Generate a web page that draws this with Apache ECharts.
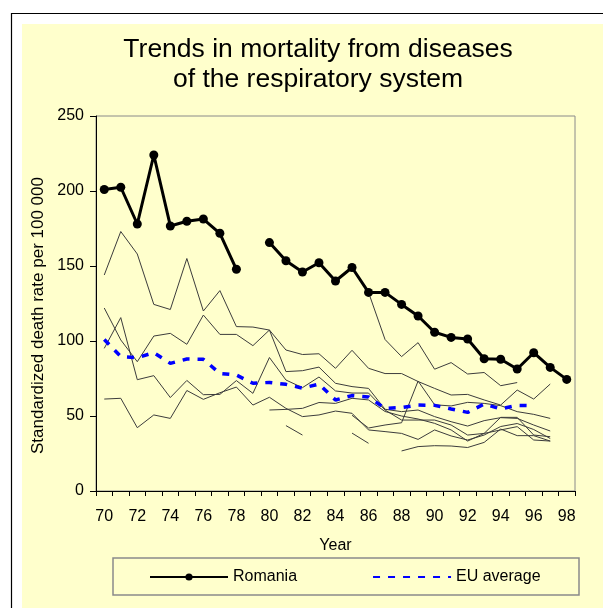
<!DOCTYPE html>
<html>
<head>
<meta charset="utf-8">
<script src="https://cdn.jsdelivr.net/npm/echarts@6/dist/echarts.min.js"></script>
<style>
html,body{margin:0;padding:0;background:#fff;}
#chart{width:603px;height:608px;}
</style>
</head>
<body>
<div id="chart"></div>
<script>
// Years 1970..1998 (labels shown every second year)
const years = ['70','71','72','73','74','75','76','77','78','79','80','81','82','83','84','85','86','87','88','89','90','91','92','93','94','95','96','97','98'];
const yTicks = [0, 50, 100, 150, 200, 250];

const romania = [201, 202.5, 178, 224, 176.7, 179.8, 181.3, 171.8, 147.8, null, 165.6, 153.5, 146, 152.2, 140, 149, 132.4, 132.4, 124.4, 116.7, 105.8, 102.4, 101.3, 88.2, 87.8, 81.3, 92.2, 82.4, 74.4];
const euAverage = [101, 89.6, 88.9, 92.2, 85.1, 88, 87.8, 78.4, 77.3, 71.8, 72.4, 71.1, 68.6, 71.3, 60.7, 63.6, 62.7, 55.1, 55.6, 57.3, 57.1, 54.7, 52.4, 58, 54.7, 57.1, 56.9, null, null];

// Other countries (thin grey lines)
const country1 = [144, 173, 158, 124.4, 121, 155, 120, 133.6, 109.6, 109.3, 107.3, 94, 91, 91.5, 81.8, 93.8, 81.8, 78.3, 78.3, 73, 68.4, 64, 64.4, 60.7, 57.3, 67.3, 61.3, 71.3, null];
const country2 = [null, null, null, null, null, null, null, null, null, null, null, null, null, null, null, null, 132.4, 101, 89.6, 98.9, 81.2, 85.6, 78, 79, 70.2, 72.3, null, null, null];
const country3 = [122, 100.7, 86.2, 103.3, 105.1, 97.8, 117.3, 104.4, 104.4, 96.9, 107.3, 79.6, 80.2, 82.6, 71.8, 69.6, 68.4, 54.5, 52.9, 54, 49.6, 46.2, 43.3, 46.9, 48.9, 48.4, 44, 40, null];
const country4 = [95.1, 115.6, 74.2, 76.9, 62.3, 73.7, 64.2, 64.4, 73.6, 65.1, 89, 74, 68.9, 76, 66.7, 65.3, 65.3, 54, 47.3, 47.3, 47.3, 44, 37.3, 38.4, 40.7, 42.9, 34, 33.3, null];
const country5 = [61.3, 61.8, 42.2, 50.7, 48.4, 67, 61.1, 65.5, 69.3, 57.3, 62.5, 55.1, 49.6, 50.7, 53.3, 51.8, 40.7, 39.6, 38.4, 34.4, 40.7, 36.7, 34, 37.3, 43, 45, 41, 35, null];
const country6 = [null, null, null, null, null, null, null, null, null, null, 54, 54.4, 55.1, 59, 58.4, 61.8, 60.7, 53, 50, 48, 45.1, 40.7, 33.3, 38.4, 49.1, 49.1, 37.3, 36.2, null];
const country7 = [null, null, null, null, null, null, null, null, null, null, null, null, null, null, null, 50.5, 42, 44, 45.5, 73.3, 57.5, 56.7, 59.1, 58.4, 56.9, 52.9, 51.1, 48.4, null];
const country8 = [null, null, null, null, null, null, null, null, null, null, null, null, null, null, null, null, null, null, 26.7, 29.6, 30.2, 30, 29, 32.4, 41.3, 36.9, 36.9, 33.3, null];
const country9 = [null, null, null, null, null, null, null, null, null, null, null, 43.6, 37.3, null, null, null, null, null, null, null, null, null, null, null, null, null, null, null, null];
const country10 = [null, null, null, null, null, null, null, null, null, null, null, null, null, null, null, 38.6, 31.8, null, null, null, null, null, null, null, null, null, null, null, null];

const others = [country1, country2, country3, country4, country5, country6, country7, country8, country9, country10];

const chart = echarts.init(document.getElementById('chart'), null, {renderer: 'canvas'});
const FONT = 'Liberation Sans, Arial, sans-serif';

const greySeries = others.map((d, i) => ({
  name: 'c' + (i + 1),
  type: 'line',
  data: d,
  symbol: 'none',
  connectNulls: false,
  lineStyle: {color: '#3c3c3c', width: 1},
  itemStyle: {color: '#3c3c3c'},
  emphasis: {disabled: true},
  z: 2
}));

chart.setOption({
  animation: false,
  backgroundColor: '#ffffff',
  textStyle: {fontFamily: FONT},
  graphic: [
    {type: 'rect', shape: {x: 22, y: 24, width: 600, height: 600}, style: {fill: '#ffffcc'}, z: -10, silent: true},
    {type: 'line', shape: {x1: 11, y1: 13.5, x2: 603, y2: 13.5}, style: {stroke: '#000', lineWidth: 1.2}, z: -5, silent: true},
    {type: 'line', shape: {x1: 11.5, y1: 13, x2: 11.5, y2: 608}, style: {stroke: '#000', lineWidth: 1.2}, z: -5, silent: true},
    {type: 'rect', shape: {x: 113, y: 558, width: 466, height: 37}, style: {fill: 'none', stroke: '#8a8a8a', lineWidth: 1.5}, z: 5, silent: true}
  ],
  title: {
    text: 'Trends in mortality from diseases\nof the respiratory system',
    left: 313,
    top: 30,
    textAlign: 'center',
    textStyle: {fontFamily: FONT, fontSize: 26.5, fontWeight: 'normal', color: '#000', lineHeight: 30}
  },
  legend: {
    data: [
      {name: 'Romania'},
      {name: 'EU average', itemStyle: {opacity: 0}}
    ],
    left: 149,
    top: 569,
    itemWidth: 78,
    itemHeight: 9,
    itemGap: 75,
    padding: 0,
    textStyle: {fontFamily: FONT, fontSize: 16, color: '#000'},
    selectedMode: false
  },
  grid: {
    left: 96, right: 28, top: 116, bottom: 117,
    show: true,
    borderColor: '#8a8a8a',
    borderWidth: 1,
    backgroundColor: 'transparent'
  },
  xAxis: {
    type: 'category',
    data: years,
    boundaryGap: true,
    name: 'Year',
    nameLocation: 'middle',
    nameGap: 47,
    nameTextStyle: {fontFamily: FONT, fontSize: 16, color: '#000'},
    axisLine: {show: true, lineStyle: {color: '#000', width: 1}},
    axisTick: {show: true, interval: 0, length: 5, inside: false, lineStyle: {color: '#000'}},
    axisLabel: {interval: 1, margin: 18, fontFamily: FONT, fontSize: 16, color: '#000'},
    splitLine: {show: false}
  },
  yAxis: {
    type: 'value',
    min: yTicks[0],
    max: yTicks[yTicks.length - 1],
    interval: 50,
    name: 'Standardized death rate per 100 000',
    nameLocation: 'middle',
    nameRotate: 90,
    nameGap: 42,
    nameTextStyle: {fontFamily: FONT, fontSize: 17, color: '#000', padding: [0, 24, 0, 0]},
    axisLine: {show: true, lineStyle: {color: '#000', width: 1}},
    axisTick: {show: true, length: 6, inside: false, lineStyle: {color: '#000'}},
    axisLabel: {margin: 12, fontFamily: FONT, fontSize: 16, color: '#000'},
    splitLine: {show: false}
  },
  series: greySeries.concat([
    {
      name: 'EU average',
      type: 'line',
      data: euAverage,
      symbol: 'none',
      connectNulls: false,
      lineStyle: {color: '#0000ff', width: 3.5, type: [7, 8], cap: 'butt'},
      itemStyle: {color: '#0000ff'},
      emphasis: {disabled: true},
      z: 3
    },
    {
      name: 'Romania',
      type: 'line',
      data: romania,
      symbol: 'circle',
      symbolSize: 9,
      showSymbol: true,
      connectNulls: false,
      lineStyle: {color: '#000', width: 3},
      itemStyle: {color: '#000'},
      emphasis: {disabled: true},
      z: 4
    }
  ])
});
</script>
</body>
</html>
